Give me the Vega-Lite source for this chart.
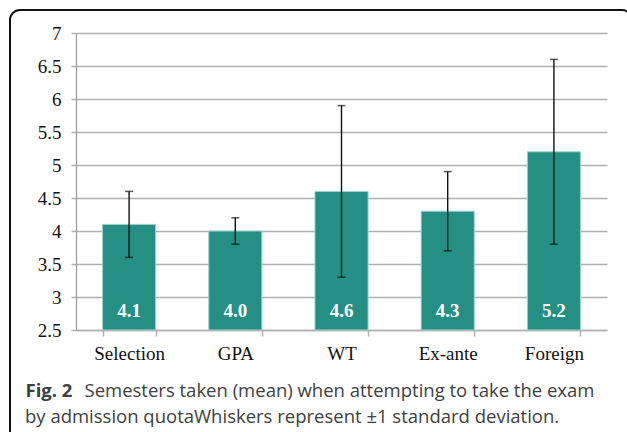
{
  "$schema": "https://vega.github.io/schema/vega-lite/v6.json",
  "autosize": {"type": "none"},
  "width": 531,
  "height": 297,
  "padding": {"left": 76, "top": 33, "right": 20, "bottom": 102},
  "background": "white",
  "config": {
    "view": {"stroke": null},
    "axis": {"labelOverlap": false, "labelSeparation": 0},
    "axisY": {"labelOverlap": false, "labelBound": false}
  },
  "title": {
    "text": "by admission quotaWhiskers represent ±1 standard deviation.",
    "orient": "top",
    "anchor": "start",
    "frame": "group",
    "baseline": "alphabetic",
    "dx": -51,
    "dy": 432,
    "offset": 0,
    "font": "Open Sans",
    "fontSize": 18.5,
    "fontWeight": "normal",
    "color": "#404040"
  },
  "data": {
    "values": [
      {"group": "Selection", "mean": 4.1, "low": 3.6, "high": 4.6, "label": "4.1"},
      {"group": "GPA", "mean": 4.0, "low": 3.8, "high": 4.2, "label": "4.0"},
      {"group": "WT", "mean": 4.6, "low": 3.3, "high": 5.9, "label": "4.6"},
      {"group": "Ex-ante", "mean": 4.3, "low": 3.7, "high": 4.9, "label": "4.3"},
      {"group": "Foreign", "mean": 5.2, "low": 3.8, "high": 6.6, "label": "5.2"}
    ]
  },
  "layer": [
    {
      "mark": {"type": "bar", "color": "#248F82", "stroke": "#9fd2ca", "strokeWidth": 1},
      "encoding": {
        "x": {
          "field": "group",
          "type": "nominal",
          "sort": null,
          "scale": {"paddingInner": 0.5, "paddingOuter": 0.25},
          "axis": {
            "title": "Fig. 2",
            "titleX": -51,
            "titleY": 66.7,
            "titleAlign": "left",
            "titleBaseline": "alphabetic",
            "titleFont": "Open Sans",
            "titleFontSize": 18.5,
            "titleFontWeight": "bold",
            "titleColor": "#404040",
            "labelAngle": 0,
            "labelFont": "Liberation Serif",
            "labelFontSize": 19,
            "labelColor": "#111111",
            "labelPadding": 8,
            "tickBand": "extent",
            "tickSize": 6,
            "tickColor": "#b0b0b0",
            "tickWidth": 1.5,
            "domainColor": "#b0b0b0",
            "domainWidth": 1.5,
            "grid": false
          }
        },
        "y": {
          "field": "mean",
          "type": "quantitative",
          "scale": {"domain": [2.5, 7], "nice": false, "zero": false},
          "axis": {
            "tickCount": 10,
            "labelExpr": "'' + datum.value",
            "labelOverlap": false,
            "title": "Semesters taken (mean) when attempting to take the exam",
            "titleAngle": 0,
            "titleX": 8,
            "titleY": 363.7,
            "titleAlign": "left",
            "titleBaseline": "alphabetic",
            "titleFont": "Open Sans",
            "titleFontSize": 18.5,
            "titleFontWeight": "normal",
            "titleColor": "#404040",
            "labelFont": "Liberation Serif",
            "labelFontSize": 19,
            "labelColor": "#111111",
            "labelPadding": 10,
            "tickSize": 5,
            "tickColor": "#b0b0b0",
            "tickWidth": 1.5,
            "domainColor": "#999999",
            "domainWidth": 1.2,
            "grid": true,
            "gridColor": "#b0b0b0",
            "gridWidth": 1.5
          }
        },
        "y2": {"datum": 2.5}
      }
    },
    {
      "mark": {"type": "rule", "color": "#111111", "strokeWidth": 1.4},
      "encoding": {
        "x": {"field": "group", "type": "nominal", "sort": null},
        "y": {"field": "low", "type": "quantitative"},
        "y2": {"field": "high"}
      }
    },
    {
      "mark": {"type": "tick", "color": "#111111", "size": 8, "thickness": 1.5},
      "encoding": {
        "x": {"field": "group", "type": "nominal", "sort": null},
        "y": {"field": "low", "type": "quantitative"}
      }
    },
    {
      "mark": {"type": "tick", "color": "#111111", "size": 8, "thickness": 1.5},
      "encoding": {
        "x": {"field": "group", "type": "nominal", "sort": null},
        "y": {"field": "high", "type": "quantitative"}
      }
    },
    {
      "mark": {"type": "text", "color": "white", "font": "Liberation Serif", "fontSize": 19, "fontWeight": "bold", "baseline": "alphabetic", "dy": -13},
      "encoding": {
        "x": {"field": "group", "type": "nominal", "sort": null},
        "y": {"datum": 2.5},
        "text": {"field": "label"}
      }
    },
    {
      "data": {"values": [{"frame": 1}]},
      "mark": {"type": "rect", "fill": null, "stroke": "#111111", "strokeWidth": 2, "cornerRadius": 10, "x": -66, "x2": 556, "y": -23, "y2": 420},
      "encoding": {}
    }
  ]
}
